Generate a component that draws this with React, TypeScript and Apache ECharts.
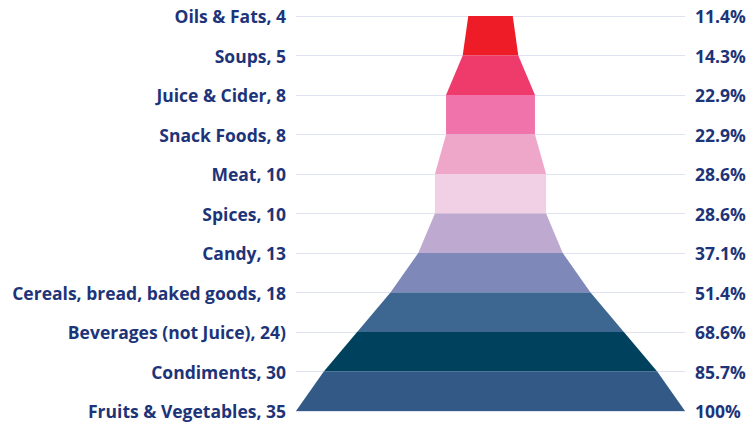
import React, { useEffect, useRef } from "react";
import * as echarts from "echarts";

const categories = [
  "Oils & Fats",
  "Soups",
  "Juice & Cider",
  "Snack Foods",
  "Meat",
  "Spices",
  "Candy",
  "Cereals, bread, baked goods",
  "Beverages (not Juice)",
  "Condiments",
  "Fruits & Vegetables",
];
const values = [4, 5, 8, 8, 10, 10, 13, 18, 24, 30, 35];
const labelEndings = ["", "", "", "", "", "", "", "", ")", "", ""];
const percentLabels = ["11.4%", "14.3%", "22.9%", "22.9%", "28.6%", "28.6%", "37.1%", "51.4%", "68.6%", "85.7%", "100%"];
const bandColors = [
  "#ed1c26",
  "#ee3b6b",
  "#f073ab",
  "#eea7c9",
  "#f1cfe4",
  "#bea9d0",
  "#7e88b9",
  "#3d6791",
  "#00425d",
  "#335a86",
];

const TEXT = "#1d3479";
const FONT = "'Open Sans', sans-serif";

export default function App() {
  const ref = useRef<HTMLDivElement>(null);
  useEffect(() => {
    if (!ref.current) return;
    const chart = echarts.init(ref.current, null, { renderer: "svg" });
    const maxV = Math.max(...values);
    const bandData = bandColors.map((_, i) => [i]);
    chart.setOption({
      animation: false,
      grid: { left: 296, right: 65, top: 16, bottom: 21, containLabel: false },
      xAxis: {
        type: "value",
        min: -maxV / 2,
        max: maxV / 2,
        show: false,
      },
      yAxis: [
        {
          type: "category",
          data: categories,
          inverse: true,
          boundaryGap: false,
          position: "left",
          axisLine: { show: false },
          axisTick: { show: false },
          splitLine: { show: true, lineStyle: { color: "#dfe2f0", width: 1 } },
          axisLabel: {
            margin: 10,
            color: TEXT,
            fontFamily: FONT,
            fontWeight: 700,
            fontSize: 17.5,
            formatter: (_v: string, idx: number) =>
              `${categories[idx]}, ${values[idx]}${labelEndings[idx]}`,
          },
        },
        {
          type: "category",
          data: percentLabels,
          inverse: true,
          boundaryGap: false,
          position: "right",
          axisLine: { show: false },
          axisTick: { show: false },
          splitLine: { show: false },
          axisLabel: {
            margin: 10,
            color: TEXT,
            fontFamily: FONT,
            fontWeight: 700,
            fontSize: 17.5,
          },
        },
      ],
      series: [
        {
          type: "custom",
          data: bandData,
          encode: { y: 0 },
          renderItem: (_params: any, api: any) => {
            const i = api.value(0) as number;
            const a = values[i] / 2;
            const b = values[i + 1] / 2;
            const p1 = api.coord([-a, i]);
            const p2 = api.coord([a, i]);
            const p3 = api.coord([b, i + 1]);
            const p4 = api.coord([-b, i + 1]);
            return {
              type: "polygon",
              shape: { points: [p1, p2, p3, p4] },
              style: { fill: bandColors[i] },
            };
          },
        },
      ],
    });
    return () => chart.dispose();
  }, []);
  return <div ref={ref} style={{ width: 750, height: 432, position: "absolute", left: 0, top: 0 }} />;
}
